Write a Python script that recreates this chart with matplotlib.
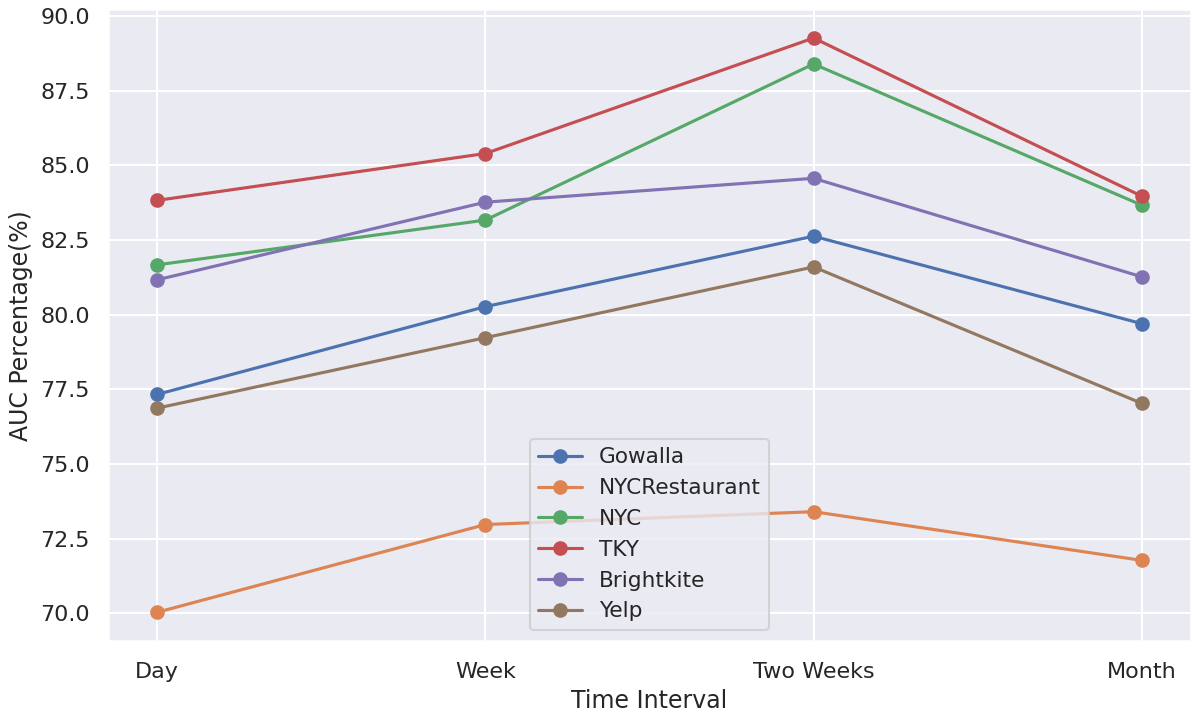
import matplotlib
matplotlib.use("Agg")
import matplotlib.pyplot as plt
import seaborn as sns

sns.set_theme(style="darkgrid", context="talk")
plt.rcParams['font.family'] = ['DejaVu Sans']

intervals = ["Day", "Week", "Two Weeks", "Month"]
gowalla = [77.33, 80.27, 82.63, 79.70]
nyc_restaurant = [70.03, 72.97, 73.40, 71.77]
nyc = [81.67, 83.17, 88.40, 83.67]
tky = [83.83, 85.40, 89.27, 83.97]
brightkite = [81.17, 83.77, 84.57, 81.27]
yelp = [76.87, 79.23, 81.60, 77.03]

series = [("Gowalla", gowalla), ("NYCRestaurant", nyc_restaurant), ("NYC", nyc),
          ("TKY", tky), ("Brightkite", brightkite), ("Yelp", yelp)]

fig = plt.figure(figsize=(12, 7.15), dpi=100)
ax = fig.add_axes([0.09, 0.1035, 0.9025, 0.8835])
x = list(range(len(intervals)))
for name, vals in series:
    ax.plot(x, vals, marker='o', label=name, linewidth=2.25, markersize=9.5)

ax.set_xticks(x)
ax.set_xticklabels(intervals)
ax.tick_params(axis='x', labelsize=16, pad=6)
ax.tick_params(axis='y', labelsize=16, pad=4)
ax.set_xlabel("Time Interval", fontsize=17, labelpad=5)
ax.set_ylabel("AUC Percentage(%)", fontsize=17, labelpad=5)
ax.legend(loc='lower center', fontsize=15.6)
fig.savefig("out.png", dpi=100)
